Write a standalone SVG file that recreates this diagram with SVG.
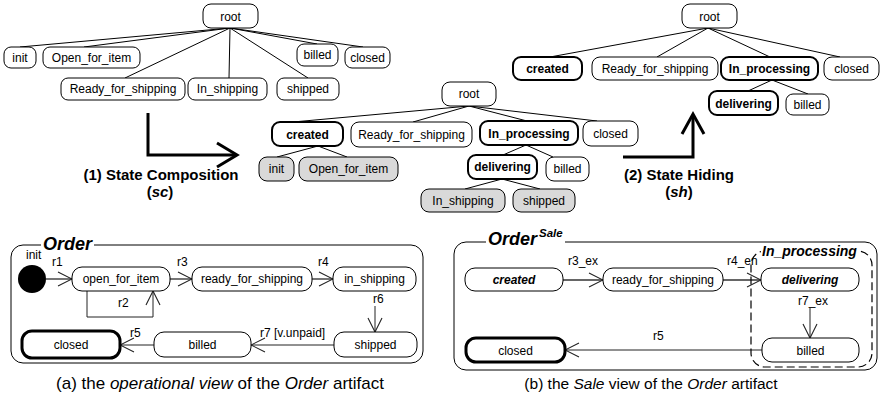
<svg xmlns="http://www.w3.org/2000/svg" width="881" height="397" viewBox="0 0 881 397">
<style>
text{font-family:"Liberation Sans",Arial,sans-serif;font-size:12px;fill:#000}
.t{text-anchor:middle}
.bd{font-weight:bold}
.bi{font-weight:bold;font-style:italic}
.n rect,rect.n{fill:#fff;stroke:#000;stroke-width:1}
rect.b{stroke-width:2}
rect.g{fill:#d9d9d9}
rect.k{stroke-width:3}
.tl{stroke:#000;stroke-width:1;fill:none}
.c1{stroke:#222;stroke-width:1;fill:none;marker-end:url(#ah)}
.c2{stroke:#666;stroke-width:1.8;fill:none;marker-end:url(#ah)}
.big{stroke:#000;stroke-width:3;fill:none}
.fr{stroke:#000;stroke-width:1;fill:none}
.cap{font-size:17px;text-anchor:middle}
</style>
<defs>
<marker id="ah" viewBox="0 0 16 16" refX="15" refY="8" markerUnits="userSpaceOnUse" markerWidth="16" markerHeight="16" orient="auto">
<path d="M1,1 L15,8 L1,15" fill="none" stroke="#222" stroke-width="1.1"/>
</marker>
</defs>
<rect width="881" height="397" fill="#fff"/>

<g id="connectors">
<!-- top-left tree -->
<line class="tl" x1="230" y1="28" x2="20" y2="47"/>
<line class="tl" x1="230" y1="28" x2="84" y2="47"/>
<line class="tl" x1="230" y1="28" x2="125" y2="78"/>
<line class="tl" x1="230" y1="28" x2="229" y2="78"/>
<line class="tl" x1="230" y1="28" x2="308" y2="78"/>
<line class="tl" x1="230" y1="28" x2="317" y2="44"/>
<line class="tl" x1="230" y1="28" x2="363" y2="47"/>
<!-- middle tree -->
<line class="tl" x1="469" y1="106" x2="293" y2="122"/>
<line class="tl" x1="469" y1="106" x2="413" y2="122"/>
<line class="tl" x1="469" y1="106" x2="527" y2="121"/>
<line class="tl" x1="469" y1="106" x2="597" y2="121"/>
<line class="tl" x1="318" y1="146" x2="277" y2="157"/>
<line class="tl" x1="318" y1="146" x2="347" y2="157"/>
<line class="tl" x1="526" y1="145" x2="503" y2="155"/>
<line class="tl" x1="526" y1="145" x2="553" y2="157"/>
<line class="tl" x1="502" y1="179" x2="465" y2="189"/>
<line class="tl" x1="502" y1="179" x2="540" y2="189"/>
<!-- top-right tree -->
<line class="tl" x1="708" y1="28" x2="550" y2="57"/>
<line class="tl" x1="708" y1="28" x2="657" y2="57"/>
<line class="tl" x1="708" y1="28" x2="770" y2="57"/>
<line class="tl" x1="708" y1="28" x2="840" y2="57"/>
<line class="tl" x1="772" y1="80" x2="748" y2="91"/>
<line class="tl" x1="772" y1="80" x2="808" y2="94"/>
<!-- big arrows -->
<path class="big" d="M148,113 V155 H236"/>
<polyline class="big" points="217,143 237,155 217,167"/>
<path class="big" d="M623,157 H693 V115"/>
<polyline class="big" points="682,134 693,114 704,134"/>
<!-- left state machine -->
<line class="c2" x1="46" y1="279" x2="72" y2="279"/>
<path class="c1" d="M87,291 V317 H153 V291"/>
<line class="c2" x1="170" y1="279" x2="192" y2="279"/>
<line class="c2" x1="312" y1="279" x2="333" y2="279"/>
<line class="c1" x1="375" y1="306" x2="375" y2="332"/>
<line class="c1" x1="334" y1="345" x2="251" y2="345"/>
<line class="c1" x1="154" y1="345" x2="120" y2="345"/>
<!-- right state machine -->
<line class="c2" x1="563" y1="280" x2="603" y2="280"/>
<line class="c2" x1="723" y1="280" x2="761" y2="280"/>
<line class="c1" x1="810" y1="308" x2="810" y2="338"/>
<line class="c1" x1="762" y1="350" x2="565" y2="350"/>
</g>

<!-- labels of connectors / arrows -->
<g id="labels">
<text class="bd t" x="161" y="180" style="font-size:15px">(1) State Composition</text>
<text class="bd t" x="160" y="197" style="font-size:15px">(<tspan font-style="italic">sc</tspan>)</text>
<text class="bd t" x="679" y="180" style="font-size:15px">(2) State Hiding</text>
<text class="bd t" x="679" y="197" style="font-size:15px">(<tspan font-style="italic">sh</tspan>)</text>
<text x="52" y="266">r1</text>
<text x="118" y="307">r2</text>
<text x="177" y="266">r3</text>
<text x="318" y="266">r4</text>
<text x="373" y="303">r6</text>
<text x="260" y="337">r7 [v.unpaid]</text>
<text x="130" y="337">r5</text>
<text x="568" y="265">r3_ex</text>
<text x="727" y="265">r4_en</text>
<text x="798" y="305">r7_ex</text>
<text x="653" y="340">r5</text>
</g>

<!-- top-left tree nodes -->
<g id="t1_root" class="n"><rect x="203" y="4" width="55" height="24" rx="8"/><text class="t" x="230.5" y="20.5">root</text></g>
<g id="t1_init" class="n"><rect x="4" y="47" width="32" height="21" rx="7"/><text class="t" x="20" y="61.5">init</text></g>
<g id="t1_open" class="n"><rect x="43" y="47" width="97" height="21" rx="7"/><text class="t" x="91.5" y="61.5">Open_for_item</text></g>
<g id="t1_billed" class="n"><rect x="297" y="44" width="41" height="22" rx="7"/><text class="t" x="317.5" y="59">billed</text></g>
<g id="t1_closed" class="n"><rect x="345" y="47" width="45" height="21" rx="7"/><text class="t" x="367.5" y="61.5">closed</text></g>
<g id="t1_ready" class="n"><rect x="61" y="78" width="124" height="22" rx="7"/><text class="t" x="123" y="93">Ready_for_shipping</text></g>
<g id="t1_inship" class="n"><rect x="188" y="78" width="79" height="22" rx="7"/><text class="t" x="227.5" y="93">In_shipping</text></g>
<g id="t1_shipped" class="n"><rect x="277" y="78" width="62" height="22" rx="7"/><text class="t" x="308" y="93">shipped</text></g>

<!-- middle tree nodes -->
<g id="t2_root" class="n"><rect x="442" y="82" width="54" height="24" rx="8"/><text class="t" x="469" y="98">root</text></g>
<g id="t2_created" class="n"><rect class="b" x="272" y="122" width="71" height="24" rx="8"/><text class="t bd" x="307.5" y="138.5">created</text></g>
<g id="t2_ready" class="n"><rect x="351" y="122" width="121" height="25" rx="8"/><text class="t" x="411.5" y="138.5">Ready_for_shipping</text></g>
<g id="t2_inproc" class="n"><rect class="b" x="480" y="121" width="98" height="24" rx="8"/><text class="t bd" x="529" y="137.5">In_processing</text></g>
<g id="t2_closed" class="n"><rect x="583" y="121" width="55" height="25" rx="8"/><text class="t" x="610.5" y="137.5">closed</text></g>
<g id="t2_init" class="n"><rect class="g" x="259" y="157" width="35" height="24" rx="8"/><text class="t" x="276.5" y="173">init</text></g>
<g id="t2_open" class="n"><rect class="g" x="299" y="157" width="99" height="24" rx="8"/><text class="t" x="348.5" y="173">Open_for_item</text></g>
<g id="t2_deliv" class="n"><rect class="b" x="468" y="155" width="69" height="24" rx="8"/><text class="t bd" x="502.5" y="171">delivering</text></g>
<g id="t2_billed" class="n"><rect x="546" y="157" width="43" height="24" rx="8"/><text class="t" x="567.5" y="173">billed</text></g>
<g id="t2_inship" class="n"><rect class="g" x="421" y="189" width="84" height="23" rx="8"/><text class="t" x="463" y="204.5">In_shipping</text></g>
<g id="t2_shipped" class="n"><rect class="g" x="513" y="189" width="62" height="23" rx="8"/><text class="t" x="544" y="204.5">shipped</text></g>

<!-- top-right tree nodes -->
<g id="t3_root" class="n"><rect x="682" y="4" width="55" height="24" rx="8"/><text class="t" x="709.5" y="20.5">root</text></g>
<g id="t3_created" class="n"><rect class="b" x="513" y="57" width="69" height="23" rx="8"/><text class="t bd" x="547.5" y="73">created</text></g>
<g id="t3_ready" class="n"><rect x="592" y="57" width="126" height="23" rx="8"/><text class="t" x="655" y="73">Ready_for_shipping</text></g>
<g id="t3_inproc" class="n"><rect class="b" x="721" y="57" width="97" height="23" rx="8"/><text class="t bd" x="769.5" y="73">In_processing</text></g>
<g id="t3_closed" class="n"><rect x="824" y="57" width="55" height="23" rx="8"/><text class="t" x="851.5" y="73">closed</text></g>
<g id="t3_deliv" class="n"><rect class="b" x="709" y="91" width="69" height="24" rx="8"/><text class="t bd" x="743.5" y="107.5">delivering</text></g>
<g id="t3_billed" class="n"><rect x="786" y="94" width="43" height="21" rx="7"/><text class="t" x="807.5" y="108.5">billed</text></g>

<!-- left state machine -->
<g id="orderA">
<path class="fr" d="M41,245 H23 A12,12 0 0 0 11,257 V351 A12,12 0 0 0 23,363 H411 A12,12 0 0 0 423,351 V257 A12,12 0 0 0 411,245 H94"/>
<text class="bi" x="43" y="250" style="font-size:18px">Order</text>
</g>
<g id="a_init"><circle cx="32" cy="279" r="14" fill="#000"/><text x="26" y="259">init</text></g>
<g id="a_open" class="n"><rect x="72" y="267" width="98" height="24" rx="10"/><text class="t" x="121" y="283">open_for_item</text></g>
<g id="a_ready" class="n"><rect x="192" y="267" width="120" height="24" rx="10"/><text class="t" x="252" y="283">ready_for_shipping</text></g>
<g id="a_inship" class="n"><rect x="333" y="267" width="83" height="24" rx="10"/><text class="t" x="374.5" y="283">in_shipping</text></g>
<g id="a_closed" class="n"><rect class="k" x="22" y="331" width="98" height="27" rx="10"/><text class="t" x="71" y="349">closed</text></g>
<g id="a_billed" class="n"><rect x="154" y="332" width="97" height="25" rx="10"/><text class="t" x="202.5" y="349">billed</text></g>
<g id="a_shipped" class="n"><rect x="334" y="332" width="83" height="25" rx="10"/><text class="t" x="375.5" y="349">shipped</text></g>
<text class="cap" x="220" y="389">(a) the <tspan font-style="italic">operational view</tspan> of the <tspan font-style="italic">Order</tspan> artifact</text>

<!-- right state machine -->
<g id="orderB">
<path class="fr" d="M486,242 H466 A12,12 0 0 0 454,254 V358 A12,12 0 0 0 466,370 H865 A12,12 0 0 0 877,358 V254 A12,12 0 0 0 865,242 H565"/>
<text class="bi" x="488" y="245" style="font-size:18px">Order</text>
<text class="bi" x="539" y="237" style="font-size:11.5px">Sale</text>
</g>
<g id="b_inproc">
<rect x="751" y="251" width="121" height="116" rx="14" fill="none" stroke="#000" stroke-width="1.2" stroke-dasharray="8 4"/>
<rect x="761" y="244" width="99" height="14" fill="#fff"/>
<text class="bi" x="762" y="256" style="font-size:14px">In_processing</text>
</g>
<g id="b_created" class="n"><rect x="465" y="268" width="98" height="23" rx="10"/><text class="t bi" x="514" y="284">created</text></g>
<g id="b_ready" class="n"><rect x="603" y="268" width="120" height="23" rx="10"/><text class="t" x="663" y="284">ready_for_shipping</text></g>
<g id="b_deliv" class="n"><rect x="761" y="268" width="98" height="23" rx="10"/><text class="t bi" x="810" y="284">delivering</text></g>
<g id="b_closed" class="n"><rect class="k" x="466" y="338" width="99" height="24" rx="10"/><text class="t" x="515.5" y="354.5">closed</text></g>
<g id="b_billed" class="n"><rect x="762" y="338" width="97" height="24" rx="10"/><text class="t" x="810.5" y="354.5">billed</text></g>
<text class="cap" x="651" y="389" style="font-size:15.5px">(b) the <tspan font-style="italic">Sale</tspan> view of the <tspan font-style="italic">Order</tspan> artifact</text>
</svg>
